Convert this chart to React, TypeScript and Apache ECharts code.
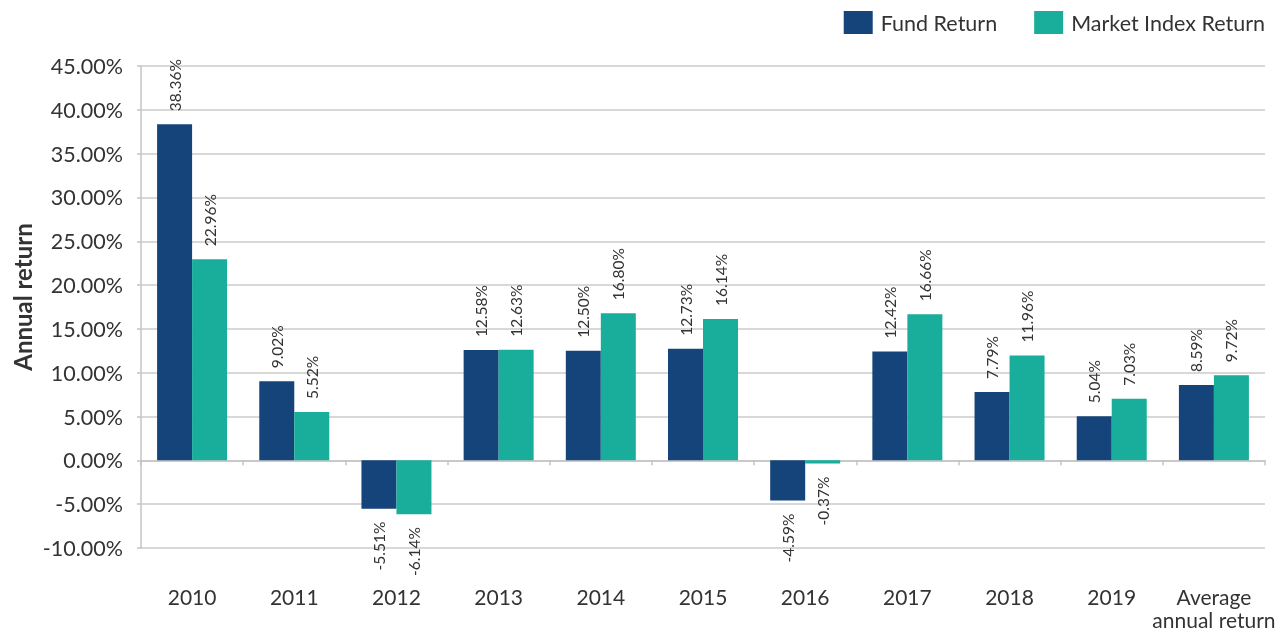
import React, { useEffect, useRef } from "react";
import * as echarts from "echarts";

const categories = ["2010", "2011", "2012", "2013", "2014", "2015", "2016", "2017", "2018", "2019", "Average\nannual return"];
const fundReturn = [38.36, 9.02, -5.51, 12.58, 12.5, 12.73, -4.59, 12.42, 7.79, 5.04, 8.59];
const marketReturn = [22.96, 5.52, -6.14, 12.63, 16.8, 16.14, -0.37, 16.66, 11.96, 7.03, 9.72];
const seriesNames = ["Fund Return", "Market Index Return"];
const yAxisTitle = "Annual return";
const colors = ["#15447a", "#19ae9b"];

const FONT = "Lato, 'Open Sans', sans-serif";

function makeData(values: number[]) {
  return values.map((v) => ({
    value: v,
    label: v >= 0 ? { position: "top", align: "left" } : { position: "bottom", align: "right" },
  }));
}

export default function App() {
  const ref = useRef<HTMLDivElement>(null);
  useEffect(() => {
    if (!ref.current) return;
    const chart = echarts.init(ref.current, undefined, { renderer: "svg" });
    const labelStyle = {
      show: true,
      rotate: 90,
      distance: 13,
      verticalAlign: "middle",
      fontFamily: FONT,
      fontSize: 15.5,
      color: "#333",
      formatter: (p: any) => p.value.toFixed(2) + "%",
    };
    chart.setOption({
      animation: false,
      textStyle: { fontFamily: FONT },
      legend: {
        top: 6,
        right: 10,
        itemWidth: 29,
        itemHeight: 23,
        itemGap: 37,
        icon: "rect",
        textStyle: { fontFamily: FONT, fontSize: 21.5, color: "#333", padding: [0, 0, 0, 3] },
        data: seriesNames,
      },
      graphic: [
        {
          type: "text",
          x: 22,
          y: 297,
          rotation: Math.PI / 2,
          style: {
            text: yAxisTitle,
            fontFamily: FONT,
            fontSize: 24,
            fontWeight: "bold",
            fill: "#333",
            align: "center",
            verticalAlign: "middle",
          },
        },
      ],
      grid: { left: 141, right: 15, top: 66, bottom: 83, outerBoundsMode: "none", containLabel: false },
      xAxis: [
        {
          type: "category",
          data: categories,
          position: "bottom",
          axisLine: { show: false, onZero: false },
          axisTick: { show: false },
          axisLabel: {
            fontFamily: FONT,
            fontSize: 21,
            color: "#333",
            margin: 37,
            lineHeight: 23,
            verticalAlign: "top",
            interval: 0,
          },
        },
        {
          type: "category",
          data: categories,
          position: "bottom",
          axisLine: { show: true, onZero: true, lineStyle: { color: "#c4c4c4", width: 1.5 } },
          axisTick: { show: true, length: 5, lineStyle: { color: "#c4c4c4", width: 1.5 } },
          axisLabel: { show: false },
        },
      ],
      yAxis: {
        type: "value",
        min: -10,
        max: 45,
        interval: 5,
        axisLine: { show: true, lineStyle: { color: "#c4c4c4", width: 1.5 } },
        axisTick: { show: true, length: 4, lineStyle: { color: "#c4c4c4", width: 1.5 } },
        splitLine: { show: true, lineStyle: { color: "#cbcbcb", width: 1.5 } },
        axisLabel: {
          fontFamily: FONT,
          fontSize: 21.5,
          color: "#333",
          margin: 18,
          formatter: (v: number) => v.toFixed(2) + "%",
        },
      },
      series: [
        {
          name: seriesNames[0],
          type: "bar",
          barWidth: 35,
          barGap: "0%",
          itemStyle: { color: colors[0] },
          label: labelStyle,
          data: makeData(fundReturn),
        },
        {
          name: seriesNames[1],
          type: "bar",
          barWidth: 35,
          barGap: "0%",
          itemStyle: { color: colors[1] },
          label: labelStyle,
          data: makeData(marketReturn),
        },
      ],
    });
    return () => chart.dispose();
  }, []);
  return <div ref={ref} style={{ position: "fixed", left: 0, top: 0, width: 1280, height: 631 }} />;
}
